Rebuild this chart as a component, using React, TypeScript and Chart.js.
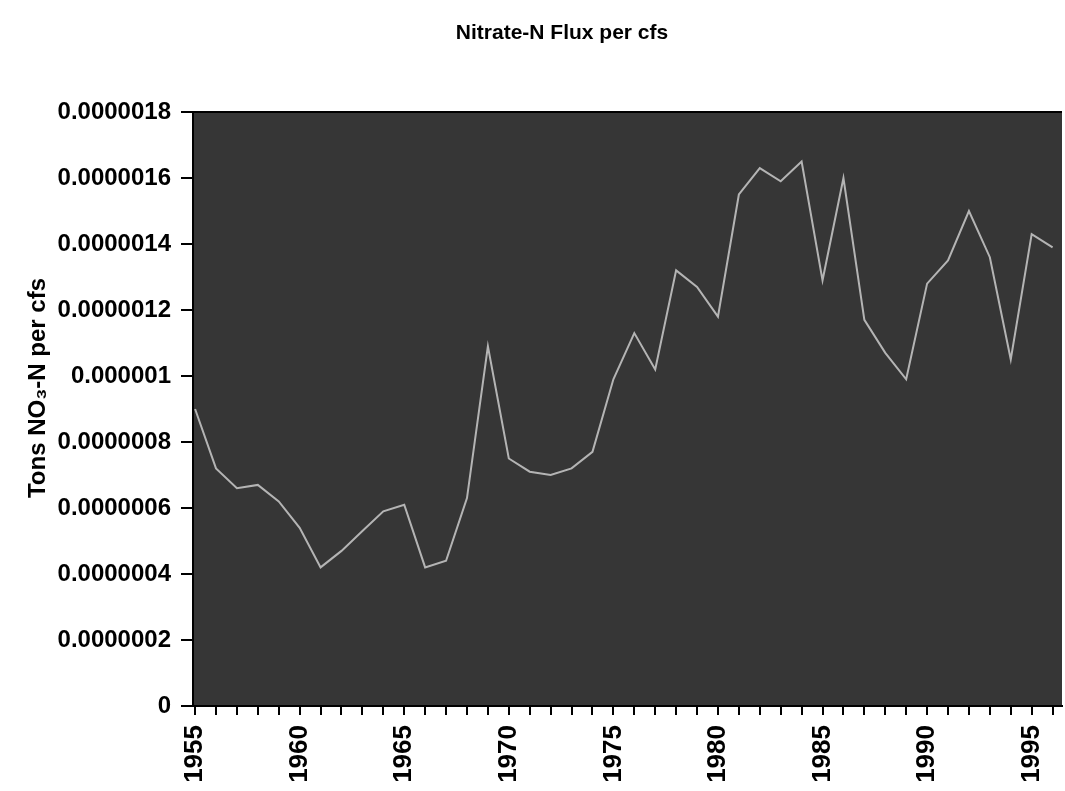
import React, { useEffect, useRef } from "react";
import { Chart, registerables } from "chart.js";

Chart.register(...registerables);

const years = [
  1955, 1956, 1957, 1958, 1959, 1960, 1961, 1962, 1963, 1964,
  1965, 1966, 1967, 1968, 1969, 1970, 1971, 1972, 1973, 1974,
  1975, 1976, 1977, 1978, 1979, 1980, 1981, 1982, 1983, 1984,
  1985, 1986, 1987, 1988, 1989, 1990, 1991, 1992, 1993, 1994,
  1995, 1996,
];

const flux = [
  0.90e-6, 0.72e-6, 0.66e-6, 0.67e-6, 0.62e-6, 0.54e-6, 0.42e-6, 0.47e-6, 0.53e-6, 0.59e-6,
  0.61e-6, 0.42e-6, 0.44e-6, 0.63e-6, 1.09e-6, 0.75e-6, 0.71e-6, 0.70e-6, 0.72e-6, 0.77e-6,
  0.99e-6, 1.13e-6, 1.02e-6, 1.32e-6, 1.27e-6, 1.18e-6, 1.55e-6, 1.63e-6, 1.59e-6, 1.65e-6,
  1.29e-6, 1.60e-6, 1.17e-6, 1.07e-6, 0.99e-6, 1.28e-6, 1.35e-6, 1.50e-6, 1.36e-6, 1.05e-6,
  1.43e-6, 1.39e-6,
];

const yTicks = [0, 2e-7, 4e-7, 6e-7, 8e-7, 1e-6, 1.2e-6, 1.4e-6, 1.6e-6, 1.8e-6];
const labeledYears = [1955, 1960, 1965, 1970, 1975, 1980, 1985, 1990, 1995];

const TITLE = "Nitrate-N Flux per cfs";
const Y_TITLE = "Tons NO\u2083-N per cfs";

function fmtY(v: number): string {
  if (Math.abs(v) < 1e-12) return "0";
  let s = v.toFixed(7);
  s = s.replace(/0+$/, "").replace(/\.$/, "");
  return s;
}

const decorPlugin = {
  id: "decor",
  beforeDraw(chart: any) {
    const { ctx, chartArea } = chart;
    ctx.save();
    ctx.fillStyle = "#ffffff";
    ctx.fillRect(0, 0, chart.width, chart.height);
    ctx.fillStyle = "#363636";
    ctx.fillRect(chartArea.left, chartArea.top, chartArea.right - chartArea.left, chartArea.bottom - chartArea.top);
    ctx.strokeStyle = "#000";
    ctx.lineWidth = 2;
    ctx.beginPath();
    ctx.moveTo(chartArea.left - 12, chartArea.top);
    ctx.lineTo(chartArea.right, chartArea.top);
    ctx.stroke();
    ctx.restore();
  },
  afterDraw(chart: any) {
    const { ctx } = chart;
    ctx.save();
    ctx.fillStyle = "#000";
    ctx.textAlign = "center";
    ctx.textBaseline = "middle";
    ctx.font = "bold 21px 'Liberation Sans Narrow', 'Liberation Sans', Arial, sans-serif";
    ctx.fillText(TITLE, 562, 33);
    ctx.translate(38, 388);
    ctx.rotate(-Math.PI / 2);
    ctx.font = "bold 24px 'Liberation Sans', Arial, sans-serif";
    ctx.fillText(Y_TITLE, 0, 0);
    ctx.restore();
  },
};

export default function App() {
  const ref = useRef<HTMLCanvasElement | null>(null);

  useEffect(() => {
    if (!ref.current) return;
    const data = years.map((y, i) => ({ x: y, y: flux[i] }));
    const chart = new Chart(ref.current, {
      type: "line",
      data: {
        datasets: [
          {
            data,
            borderColor: "#b4b4b4",
            borderWidth: 2,
            pointRadius: 0,
            tension: 0,
            fill: false,
          },
        ],
      },
      options: {
        animation: false,
        responsive: false,
        devicePixelRatio: 1,
        layout: { padding: { top: 112, right: 3, left: 0, bottom: 0 } },
        plugins: {
          legend: { display: false },
          title: { display: false },
          tooltip: { enabled: false },
        },
        scales: {
          x: {
            type: "linear",
            min: 1954.9,
            max: 1996.45,
            afterBuildTicks: (scale: any) => {
              scale.ticks = years.map((v) => ({ value: v }));
            },
            afterFit: (scale: any) => {
              scale.height = 85;
              scale.paddingLeft = 0;
              scale.paddingRight = 0;
            },
            ticks: {
              autoSkip: false,
              minRotation: 90,
              maxRotation: 90,
              padding: 10,
              color: "#000",
              font: { family: "'Liberation Sans', Arial, sans-serif", size: 26, weight: "bold" },
              callback: (v: any) => (labeledYears.includes(Number(v)) ? String(v) : ""),
            },
            grid: {
              drawOnChartArea: false,
              drawTicks: true,
              tickLength: 9,
              color: "#000",
              lineWidth: 2,
            },
            border: { color: "#000", width: 2 },
          },
          y: {
            type: "linear",
            min: 0,
            max: 1.8e-6,
            afterBuildTicks: (scale: any) => {
              scale.ticks = yTicks.map((v) => ({ value: v }));
            },
            afterFit: (scale: any) => {
              scale.width = 193;
              scale.paddingTop = 0;
              scale.paddingBottom = 0;
            },
            ticks: {
              padding: 10,
              color: "#000",
              font: { family: "'Liberation Sans', Arial, sans-serif", size: 24, weight: "bold" },
              callback: (v: any) => fmtY(Number(v)),
            },
            grid: {
              drawOnChartArea: false,
              drawTicks: true,
              tickLength: 12,
              color: "#000",
              lineWidth: 2,
            },
            border: { color: "#000", width: 2 },
          },
        },
      },
      plugins: [decorPlugin],
    });
    return () => chart.destroy();
  }, []);

  return (
    <div style={{ position: "absolute", left: 0, top: 0, width: 1065, height: 791, background: "#fff" }}>
      <canvas ref={ref} width={1065} height={791} style={{ display: "block", width: 1065, height: 791 }} />
    </div>
  );
}
